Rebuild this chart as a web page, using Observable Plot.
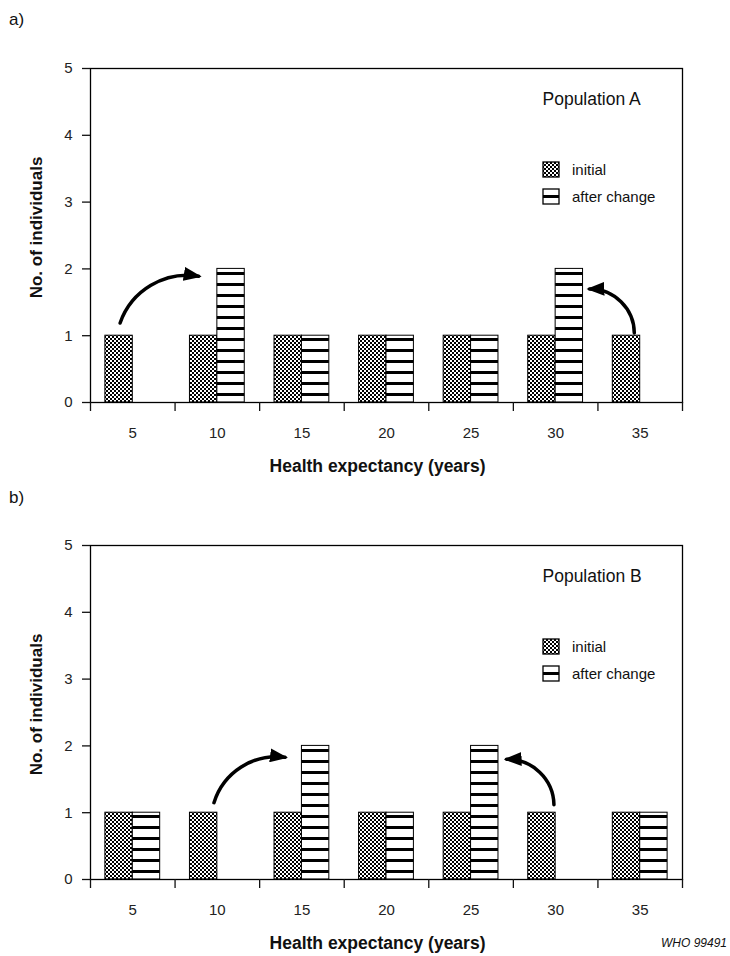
<!DOCTYPE html>
<html>
<head>
<meta charset="utf-8">
<script src="https://cdn.jsdelivr.net/npm/d3@7"></script>
<script src="https://cdn.jsdelivr.net/npm/@observablehq/plot@0.6"></script>
<style>
  body { margin: 0; background: #fff; }
  #wrap { position: relative; width: 730px; height: 956px; font-family: "Liberation Sans", Arial, sans-serif; color: #111; }
  .plab { position: absolute; left: 9px; font-size: 17px; }
  .panel { position: absolute; left: 0; }
  #who { position: absolute; right: 3px; top: 936px; font-family: "Liberation Sans", Arial, sans-serif; font-style: italic; font-size: 12px; }
</style>
</head>
<body>
<div id="wrap">
  <div class="plab" style="top:10px">a)</div>
  <div class="panel" id="pa" style="top:40px"></div>
  <div class="plab" style="top:488px">b)</div>
  <div class="panel" id="pb" style="top:517px"></div>
  <div id="who">WHO 99491</div>
</div>
<script>
// ---- data ----
const categories = [5, 10, 15, 20, 25, 30, 35];
const seriesNames = ["initial", "after change"];
const yTicks = [0, 1, 2, 3, 4, 5];
const popA_initial = [1, 1, 1, 1, 1, 1, 1];
const popA_after   = [0, 2, 1, 1, 1, 2, 0];
const popB_initial = [1, 1, 1, 1, 1, 1, 1];
const popB_after   = [1, 0, 2, 1, 2, 0, 1];
const titles = ["Population A", "Population B"];
const xLabel = "Health expectancy (years)";
const yLabel = "No. of individuals";
// arrows in data coordinates (x: years, y: individuals); bend in degrees
const arrowsA = [
  {x1: 4.25, y1: 1.19, x2: 8.9, y2: 1.89, bend: 40},
  {x1: 34.65, y1: 1.04, x2: 32.0, y2: 1.70, bend: -45}
];
const arrowsB = [
  {x1: 9.8, y1: 1.15, x2: 14.0, y2: 1.83, bend: 40},
  {x1: 29.9, y1: 1.12, x2: 27.1, y2: 1.80, bend: -45}
];

const BW = 1.62;       // bar width in x units
const FONT = "'Liberation Sans', Arial, sans-serif";
const boundaries = [categories[0] - 2.5, ...categories.map(c => c + 2.5)];

function addDefs(svg, uid) {
  const defs = d3.select(svg).insert("defs", ":first-child");
  const ch = defs.append("pattern").attr("id", "checker").attr("patternUnits", "userSpaceOnUse")
    .attr("width", 4).attr("height", 4);
  ch.append("rect").attr("width", 4).attr("height", 4).attr("fill", "#fff");
  ch.append("rect").attr("width", 2).attr("height", 2).attr("fill", "#000");
  ch.append("rect").attr("x", 2).attr("y", 2).attr("width", 2).attr("height", 2).attr("fill", "#000");
  const st = defs.append("pattern").attr("id", "stripes").attr("patternUnits", "userSpaceOnUse")
    .attr("width", 10).attr("height", 11).attr("y", 1);
  st.append("rect").attr("width", 10).attr("height", 11).attr("fill", "#fff");
  st.append("rect").attr("width", 10).attr("height", 3).attr("fill", "#000");
  const mk = defs.append("marker").attr("id", "head" + uid).attr("markerUnits", "userSpaceOnUse")
    .attr("viewBox", "0 0 18 14").attr("markerWidth", 18).attr("markerHeight", 14)
    .attr("refX", 15).attr("refY", 7).attr("orient", "auto");
  mk.append("path").attr("d", "M0,0L18,7L0,14Z").attr("fill", "#000");
}

function panel(initial, after, arrows, title, uid) {
  const ini = [], aft = [];
  categories.forEach((c, i) => {
    if (initial[i] > 0) ini.push({x1: c - BW, x2: c, y: initial[i]});
    if (after[i] > 0) aft.push({x1: c, x2: c + BW, y: after[i]});
  });
  const arrowMarks = arrows.map(a => Plot.arrow([a], {x1: "x1", y1: "y1", x2: "x2", y2: "y2", bend: a.bend,
    stroke: "#000", strokeWidth: 3.5, headLength: 10, headAngle: 60}));
  const svg = Plot.plot({
    width: 730, height: 438,
    marginLeft: 90, marginRight: 48, marginTop: 28, marginBottom: 76,
    style: {fontFamily: FONT, fontSize: "14px", color: "#111", background: "transparent"},
    x: {domain: [boundaries[0], boundaries[boundaries.length - 1]]},
    y: {domain: [0, 5]},
    marks: [
      Plot.rectY(ini, {x1: "x1", x2: "x2", y1: 0, y2: "y", fill: "url(#checker)", stroke: "#000", strokeWidth: 1}),
      Plot.rectY(aft, {x1: "x1", x2: "x2", y1: 0, y2: "y", fill: "url(#stripes)", stroke: "#000", strokeWidth: 1}),
      Plot.frame({stroke: "#000", strokeWidth: 1.3}),
      Plot.axisY(yTicks, {tickSize: 8, tickPadding: 10, fontSize: 15, label: null, strokeWidth: 1.3, tickFormat: d => String(d), fill: "#222"}),
      Plot.axisX(boundaries, {tickSize: 9, tickFormat: () => "", label: null, strokeWidth: 1.3}),
      Plot.axisX(categories, {tickSize: 0, tickPadding: 25, fontSize: 15, label: null, fill: "#222"}),
      ...arrowMarks,
      Plot.text([title], {frameAnchor: "top-left", dx: 452, dy: 31, textAnchor: "start", lineAnchor: "middle", fontSize: 17.5}),
      Plot.text([yLabel], {frameAnchor: "left", dx: -54, dy: -8, rotate: -90, textAnchor: "middle", lineAnchor: "middle", fontWeight: "bold", fontSize: 17}),
      Plot.text([xLabel], {frameAnchor: "bottom", dx: -9, dy: 64, textAnchor: "middle", lineAnchor: "middle", fontWeight: "bold", fontSize: 17.5})
    ]
  });
  addDefs(svg, uid);
  // replace the stroked chevron heads by filled triangular heads
  d3.select(svg).selectAll("g[aria-label='arrow'] path").each(function() {
    const d = this.getAttribute("d");
    const cut = d.indexOf("M", 1);
    if (cut > 0) this.setAttribute("d", d.slice(0, cut));
    this.setAttribute("marker-end", `url(#head${uid})`);
  });
  // legend
  const g = d3.select(svg).append("g").attr("font-family", FONT).attr("font-size", 15).attr("text-anchor", "start");
  const fills = ["url(#checker)", "url(#stripes)"];
  seriesNames.forEach((name, i) => {
    const y = 122 + i * 27;
    g.append("rect").attr("x", 543).attr("y", y).attr("width", 16).attr("height", 15)
      .attr("fill", fills[i]).attr("stroke", "#000").attr("stroke-width", 1.3);
    g.append("text").attr("x", 572).attr("y", y + 8).attr("dy", "0.35em").attr("fill", "#111").text(name);
  });
  return svg;
}

document.getElementById("pa").appendChild(panel(popA_initial, popA_after, arrowsA, titles[0], "a"));
document.getElementById("pb").appendChild(panel(popB_initial, popB_after, arrowsB, titles[1], "b"));
</script>
</body>
</html>
